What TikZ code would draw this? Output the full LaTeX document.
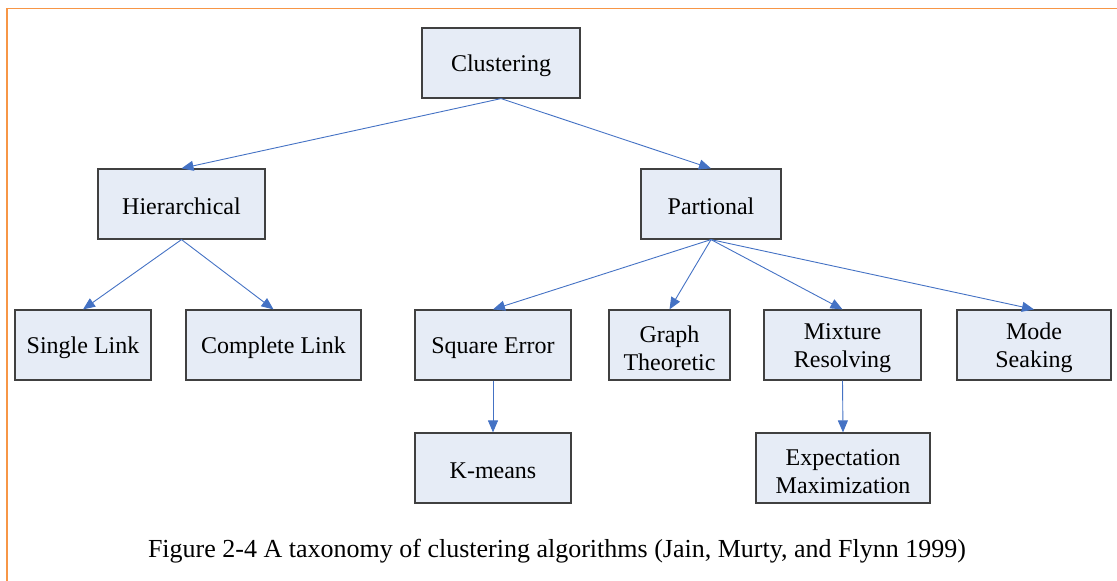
\documentclass[tikz,border=0pt]{standalone}
\usepackage{fontspec}
\setmainfont{Liberation Serif}
\usetikzlibrary{arrows.meta}
\definecolor{boxfill}{RGB}{230,236,246}
\definecolor{arrowblue}{RGB}{68,114,196}
\definecolor{frameorange}{RGB}{247,150,70}
\begin{document}
\begin{tikzpicture}[x=1pt,y=-1pt,
  box/.style={draw=black!75, line width=1.2pt, fill=boxfill, minimum height=70pt,
    inner sep=0pt, align=center, font=\fontsize{24}{28}\selectfont,
    execute at begin node={\rule{0pt}{22pt}}},
  twoline/.style={text height=51pt},
  conn/.style={draw=arrowblue, line width=0.9pt, -{Triangle[length=12pt,width=10pt]}},
  caption/.style={font=\fontsize{26}{28}\selectfont, inner sep=0pt}]
\useasboundingbox (0,0) rectangle (1117,581);
\draw[frameorange, line width=1.8pt] (7,581) -- (7,8.5) -- (1117,8.5);

\node[box, minimum width=158pt] (clu) at (501,63) {Clustering};
\node[box, minimum width=167pt] (hie) at (181.5,204) {Hierarchical};
\node[box, minimum width=140pt] (par) at (711,204) {Partional};
\node[box, minimum width=136pt] (sin) at (83,345) {Single Link};
\node[box, minimum width=175pt] (com) at (273.5,345) {Complete Link};
\node[box, minimum width=156pt] (squ) at (493,345) {Square Error};
\node[box, twoline, minimum width=121pt] (gra) at (669.5,345) {Graph\\Theoretic};
\node[box, twoline, minimum width=157pt] (mix) at (842.5,345) {Mixture\\Resolving};
\node[box, twoline, minimum width=154pt] (mod) at (1034,345) {Mode\\Seaking};
\node[box, minimum width=156pt] (kme) at (493,468) {K-means};
\node[box, twoline, minimum width=174pt] (exp) at (843,468) {Expectation\\Maximization};

\node[caption] (cap) at (557,551) {Figure 2-4 A taxonomy of clustering algorithms (Jain, Murty, and Flynn 1999)};

\draw[conn] (clu.south) -- (hie.north);
\draw[conn] (clu.south) -- (par.north);
\draw[conn] (hie.south) -- (sin.north);
\draw[conn] (hie.south) -- (com.north);
\draw[conn] (par.south) -- (squ.north);
\draw[conn] (par.south) -- (gra.north);
\draw[conn] (par.south) -- (mix.north);
\draw[conn] (par.south) -- (mod.north);
\draw[conn] (squ.south) -- (kme.north);
\draw[conn] (mix.south) -- (exp.north);
\end{tikzpicture}
\end{document}
